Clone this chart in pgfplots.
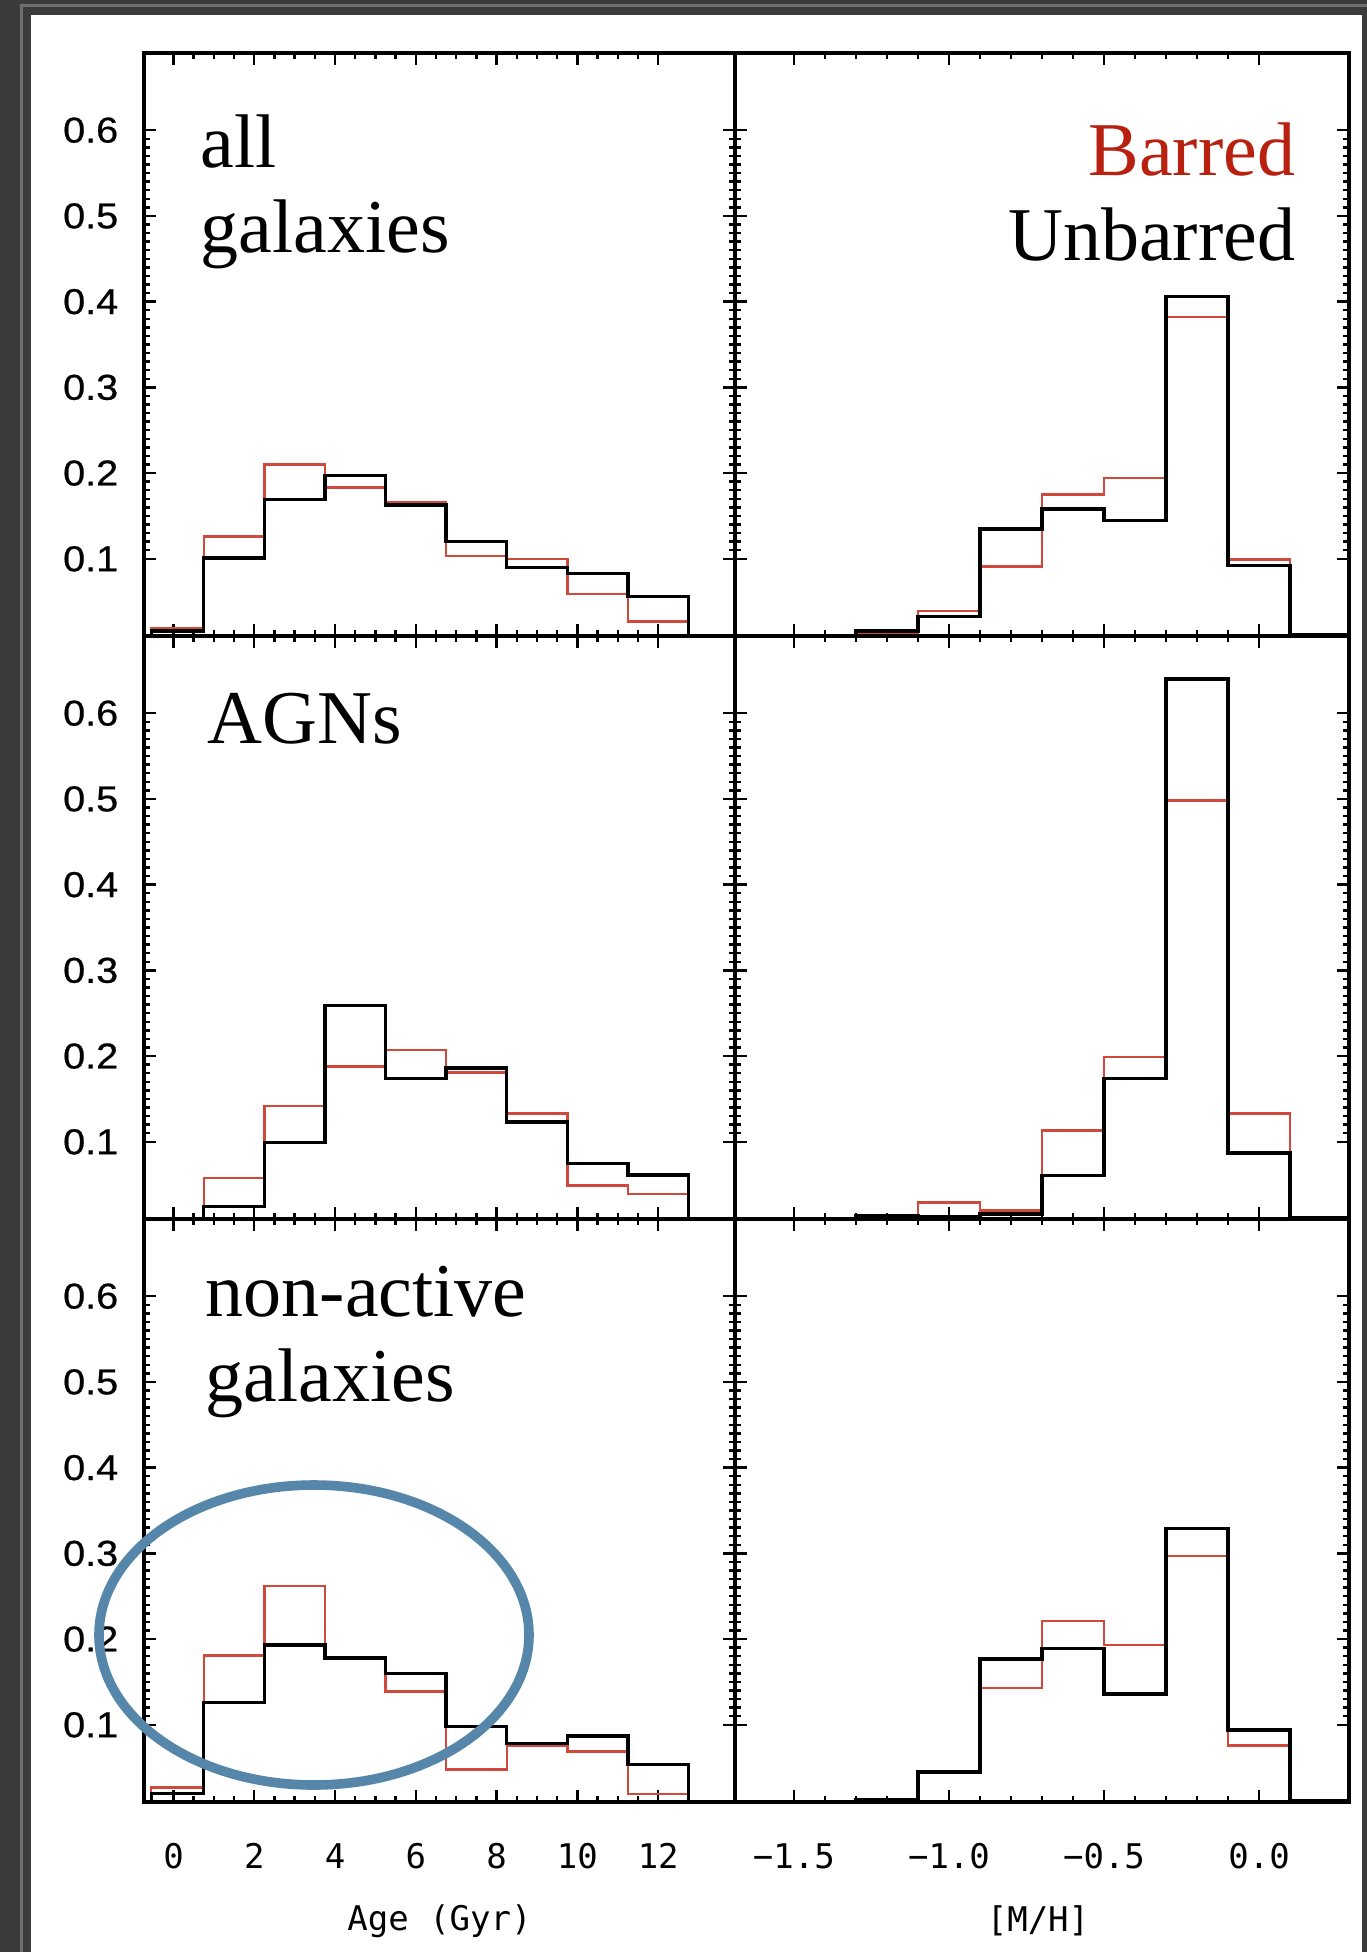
\documentclass[border=0pt]{standalone}
\usepackage{pgfplots}
\usepackage{pgfplotstable}
\pgfplotsset{compat=1.18}
\usepackage{fontspec}
\setmainfont{Liberation Serif}
\newfontfamily\ticksans[FakeStretch=1.1, FakeBold=0.6]{Liberation Sans}
\newfontfamily\labmono{DejaVu Sans Mono}

\definecolor{barredtext}{HTML}{B8200F}
\definecolor{barline}{HTML}{D0493B}
\definecolor{frameDark}{HTML}{3B3B3B}
\definecolor{frameLight}{HTML}{6E6E6E}
\definecolor{ringblue}{HTML}{5687AB}

% ---- histograms: left bin edge, barred fraction, unbarred fraction ----
\pgfplotstableread{
edge   barred unbarred
-0.55  0      0
-0.55  0.019  0.016
0.75   0.126  0.101
2.25   0.210  0.169
3.75   0.183  0.197
5.25   0.166  0.163
6.75   0.103  0.120
8.25   0.100  0.090
9.75   0.059  0.083
11.25  0.027  0.056
12.75  0      0
}\ageall
\pgfplotstableread{
edge   barred unbarred
-1.3   0      0
-1.3   0.014  0.016
-1.1   0.039  0.033
-0.9   0.091  0.135
-0.7   0.175  0.158
-0.5   0.194  0.145
-0.3   0.382  0.406
-0.1   0.099  0.092
0.1    0.012  0.012
0.3    0.012  0.012
}\mhall
\pgfplotstableread{
edge   barred unbarred
-0.55  0      0
-0.55  0      0
0.75   0.058  0.0245
2.25   0.142  0.099
3.75   0.188  0.259
5.25   0.207  0.174
6.75   0.181  0.186
8.25   0.133  0.123
9.75   0.049  0.075
11.25  0.039  0.0615
12.75  0      0
}\ageagn
\pgfplotstableread{
edge   barred unbarred
-1.3   0      0
-1.3   0.012  0.014
-1.1   0.029  0.013
-0.9   0.020  0.016
-0.7   0.113  0.061
-0.5   0.199  0.174
-0.3   0.498  0.640
-0.1   0.133  0.087
0.1    0.012  0.012
0.3    0.012  0.012
}\mhagn
\pgfplotstableread{
edge   barred unbarred
-0.55  0      0
-0.55  0.027  0.020
0.75   0.181  0.126
2.25   0.262  0.193
3.75   0.177  0.178
5.25   0.139  0.160
6.75   0.048  0.098
8.25   0.076  0.078
9.75   0.069  0.087
11.25  0.019  0.054
12.75  0      0
}\agenon
\pgfplotstableread{
edge   barred unbarred
-1.3   0      0
-1.3   0.013  0.013
-1.1   0.045  0.045
-0.9   0.143  0.177
-0.7   0.221  0.189
-0.5   0.193  0.136
-0.3   0.297  0.329
-0.1   0.076  0.094
0.1    0.012  0.012
0.3    0.012  0.012
}\mhnon

\pgfplotsset{
  panel/.style={
    scale only axis, anchor=north west, height=145.75pt,
    ymin=0.01, ymax=0.69,
    axis line style={line width=0.9pt},
    tick style={black, line width=0.6pt},
    tick align=inside,
    major tick length=2.9pt, minor tick length=1.4pt,
    xtick pos=both, ytick pos=both,
    xticklabel pos=lower, yticklabel pos=left,
    ytick={0.1,0.2,0.3,0.4,0.5,0.6}, minor y tick num=9,
    yticklabels={}, xticklabels={},
  },
  agecol/.style={width=147.75pt, xmin=-0.73, xmax=13.9,
    xtick={0,2,4,6,8,10,12}, minor x tick num=3},
  mhcol/.style={width=153.5pt, xmin=-1.69, xmax=0.29,
    xtick={-1.5,-1,-0.5,0}, minor x tick num=4},
  ylab/.style={yticklabels={0.1,0.2,0.3,0.4,0.5,0.6},
    yticklabel style={font=\ticksans\fontsize{9}{10}\selectfont,
      inner sep=0pt, anchor=east, xshift=-6.25pt}},
  xlabstyle/.style={
    xticklabel style={font=\labmono\fontsize{8.5}{10}\selectfont,
      inner sep=0pt, anchor=north, yshift=-10.15pt},
    xlabel style={font=\labmono\fontsize{8.5}{10}\selectfont,
      at={(axis description cs:0.5,0)}, anchor=center, yshift=-29.75pt}},
  redhist/.style={const plot, no markers, barline, line width=0.6pt},
  blackhist/.style={const plot, no markers, black, line width=0.85pt},
}

\begin{document}
\begin{tikzpicture}
  \path[use as bounding box] (0pt,0pt) rectangle (341.75pt,-488pt);
  % window frame
  \fill[frameDark] (0pt,0pt) rectangle (345pt,-492pt);
  \draw[frameLight, line width=0.75pt] (5.4pt,-1.4pt) rectangle (344pt,-495pt);
  \fill[white] (7.75pt,-3.75pt) rectangle (340.5pt,-492pt);

  % row 1: all galaxies
  \begin{axis}[panel, agecol, ylab, at={(36pt,-13.25pt)}]
    \addplot[redhist] table[x=edge, y=barred] {\ageall};
    \addplot[blackhist] table[x=edge, y=unbarred] {\ageall};
  \end{axis}
  \begin{axis}[panel, mhcol, at={(183.75pt,-13.25pt)}]
    \addplot[redhist] table[x=edge, y=barred] {\mhall};
    \addplot[blackhist] table[x=edge, y=unbarred] {\mhall};
  \end{axis}

  % row 2: AGNs
  \begin{axis}[panel, agecol, ylab, at={(36pt,-159pt)}]
    \addplot[redhist] table[x=edge, y=barred] {\ageagn};
    \addplot[blackhist] table[x=edge, y=unbarred] {\ageagn};
  \end{axis}
  \begin{axis}[panel, mhcol, at={(183.75pt,-159pt)}]
    \addplot[redhist] table[x=edge, y=barred] {\mhagn};
    \addplot[blackhist] table[x=edge, y=unbarred] {\mhagn};
  \end{axis}

  % row 3: non-active galaxies
  \begin{axis}[panel, agecol, ylab, xlabstyle, at={(36pt,-304.75pt)},
      xticklabels={0,2,4,6,8,10,12}, xlabel={Age (Gyr)}]
    \addplot[redhist] table[x=edge, y=barred] {\agenon};
    \addplot[blackhist] table[x=edge, y=unbarred] {\agenon};
  \end{axis}
  \begin{axis}[panel, mhcol, xlabstyle, at={(183.75pt,-304.75pt)},
      xticklabels={−1.5,−1.0,−0.5,0.0}, xlabel={[M/H]},
      xlabel style={xshift=-1pt}]
    \addplot[redhist] table[x=edge, y=barred] {\mhnon};
    \addplot[blackhist] table[x=edge, y=unbarred] {\mhnon};
  \end{axis}

  % panel captions
  \begin{scope}[every node/.style={inner sep=0pt, font=\fontsize{19}{23}\selectfont}]
    \node[anchor=base west] at (50pt,-41.75pt) {all};
    \node[anchor=base west] at (50pt,-63pt) {galaxies};
    \node[anchor=base east, text=barredtext] at (324pt,-43.75pt) {Barred};
    \node[anchor=base east] at (324pt,-65pt) {Unbarred};
    \node[anchor=base west] at (51.65pt,-185.75pt) {AGNs};
    \node[anchor=base west] at (51.25pt,-329pt) {non-active};
    \node[anchor=base west] at (51.25pt,-350.35pt) {galaxies};
  \end{scope}

  % highlight ring around the young-age excess
  \draw[ringblue, line width=2.4pt] (78.5pt,-408.75pt) ellipse [x radius=53.75pt, y radius=37.5pt];
\end{tikzpicture}
\end{document}
